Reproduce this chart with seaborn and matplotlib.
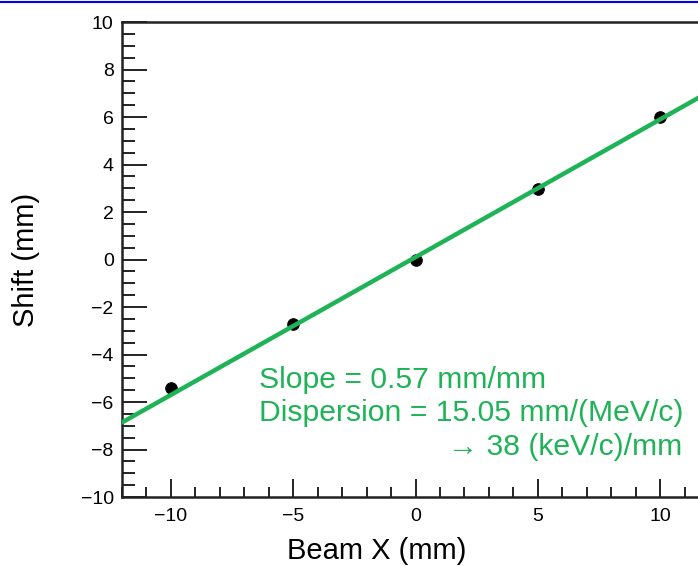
import numpy as np
import pandas as pd
import matplotlib
matplotlib.use('Agg')
import matplotlib.pyplot as plt
from matplotlib.lines import Line2D
from matplotlib.ticker import MultipleLocator
import seaborn as sns

# measured points
beam_x = [-10, -5, 0, 5, 10]
shift = [-5.4, -2.72, -0.02, 2.98, 6.02]

# fit line
fit_slope = 0.58
fit_intercept = 0.1

green = '#1db356'

sns.set_style('white')
plt.rcParams['font.family'] = ['Liberation Sans', 'DejaVu Sans']
plt.rcParams['text.color'] = 'black'
plt.rcParams['axes.labelcolor'] = 'black'
plt.rcParams['xtick.color'] = 'black'
plt.rcParams['ytick.color'] = 'black'

df = pd.DataFrame({'x': beam_x, 'y': shift})
fit_x = np.array([-12.0, 12.0])
fit_df = pd.DataFrame({'x': fit_x, 'y': fit_slope * fit_x + fit_intercept})

fig = plt.figure(figsize=(6.98, 5.66), dpi=100)
ax = fig.add_axes([0.1748, 0.1219, 0.841, 0.8392])

sns.lineplot(data=fit_df, x='x', y='y', ax=ax, color=green, lw=3.2, zorder=3)
sns.scatterplot(data=df, x='x', y='y', ax=ax, color='black', s=70,
                edgecolor='black', zorder=2)

ax.set_xlim(-12, 12)
ax.set_ylim(-10, 10)
ax.xaxis.set_major_locator(MultipleLocator(5))
ax.xaxis.set_minor_locator(MultipleLocator(1))
ax.yaxis.set_major_locator(MultipleLocator(2))
ax.yaxis.set_minor_locator(MultipleLocator(0.5))
ax.tick_params(which='both', direction='in', bottom=True, left=True,
               top=False, right=False, width=1.4, color='#222222',
               labelsize=14, labelcolor='black')
ax.tick_params(axis='x', which='major', length=13, pad=8)
ax.tick_params(axis='x', which='minor', length=7)
ax.tick_params(axis='y', which='major', length=18, pad=6)
ax.tick_params(axis='y', which='minor', length=9)
for sp in ax.spines.values():
    sp.set_linewidth(1.8)
    sp.set_color('#222222')

ax.set_xlabel('Beam X (mm)', fontsize=21)
ax.set_ylabel('Shift (mm)', fontsize=21)
ax.xaxis.set_label_coords(0.433, -0.085)
ax.yaxis.set_label_coords(-0.14, 0.5)

ax.text(-6.4, -5.39, 'Slope = 0.57 mm/mm', color=green, fontsize=21.7)
ax.text(-6.4, -6.82, 'Dispersion = 15.05 mm/(MeV/c)', color=green, fontsize=21.7)
ax.text(10.92, -8.25, '\u2192 38 (keV/c)/mm', color=green, fontsize=21.7,
        ha='right')

# cut-off blue title underline at the very top
fig.add_artist(Line2D([0, 1], [0.997, 0.997], color='#0000ff', lw=1.5))

fig.savefig('out.png', dpi=100)
